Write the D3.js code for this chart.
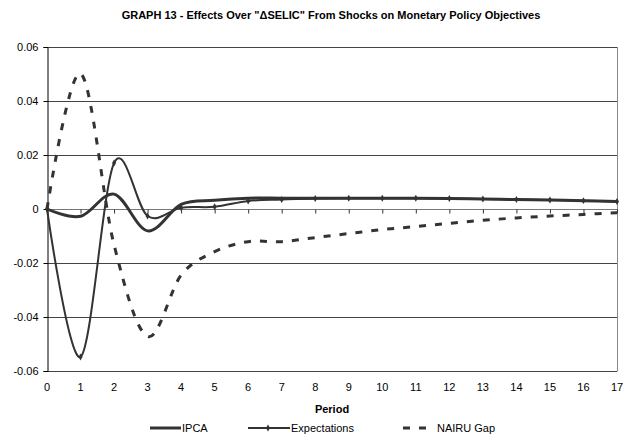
<!DOCTYPE html>
<html><head><meta charset="utf-8">
<script src="https://cdn.jsdelivr.net/npm/d3@7"></script>
<style>body{margin:0;background:#fff}svg{display:block}text{font-family:"Liberation Sans",Arial,sans-serif;fill:#000}</style>
</head><body><svg id="c" width="629" height="438"></svg>
<script>
const periods = [0,1,2,3,4,5,6,7,8,9,10,11,12,13,14,15,16,17];
const ipca = [0, -0.0027, 0.0055, -0.0081, 0.0017, 0.0032, 0.0040, 0.0040, 0.0040, 0.0040, 0.0040, 0.0040, 0.0039, 0.0037, 0.0035, 0.0033, 0.0031, 0.0028];
const expectations = [0, -0.0548, 0.0170, -0.0026, 0.0005, 0.0008, 0.0030, 0.0035, 0.0039, 0.0040, 0.0040, 0.0040, 0.0039, 0.0037, 0.0035, 0.0033, 0.0031, 0.0028];
const nairuGap = [0, 0.0502, -0.0133, -0.0472, -0.0245, -0.0158, -0.0121, -0.0121, -0.0106, -0.0091, -0.0076, -0.0065, -0.0053, -0.0042, -0.0033, -0.0026, -0.0020, -0.0014];
const yTicks = [-0.06, -0.04, -0.02, 0, 0.02, 0.04, 0.06];
const seriesNames = ["IPCA", "Expectations", "NAIRU Gap"];
const title = 'GRAPH 13 - Effects Over "\u0394SELIC" From Shocks on Monetary Policy Objectives';
const xTitle = "Period";

const svg = d3.select("#c");
const L = 47, R = 617, T = 47, B = 371;
const x = d3.scaleLinear().domain([0, 17]).range([L, R]);
const y = d3.scaleLinear().domain([-0.06, 0.06]).range([B, T]);

svg.append("text").attr("x", 331).attr("y", 19).attr("text-anchor", "middle")
  .style("font-size", "11px").style("font-weight", "bold").text(title);

// gridlines
svg.append("g").selectAll("line").data(yTicks).join("line")
  .attr("x1", L).attr("x2", R)
  .attr("y1", d => Math.round(y(d)) + 0.5).attr("y2", d => Math.round(y(d)) + 0.5)
  .attr("stroke", d => d === 0 ? "#777" : "#444").attr("stroke-width", 1);
// right border
svg.append("line").attr("x1", R + 0.5).attr("x2", R + 0.5).attr("y1", T).attr("y2", B + 0.5)
  .attr("stroke", "#888");

// y axis
const ya = svg.append("g").attr("transform", `translate(${L + 0.5},0)`)
  .call(d3.axisLeft(y).tickValues(yTicks).tickSize(4).tickPadding(5)
    .tickFormat(d => d === 0 ? "0" : d.toFixed(2)));
ya.select(".domain").attr("stroke", "#000");
ya.selectAll(".tick line").attr("stroke", "#000");
ya.selectAll("text").style("font-size", "11px").style("font-family", '"Liberation Sans",Arial,sans-serif').attr("fill", "#000");
ya.selectAll(".tick").attr("transform", d => `translate(0,${Math.round(y(d)) + 0.5})`);

// x axis at zero with ticks
const y0 = Math.round(y(0)) + 0.5;
const xa = svg.append("g").attr("transform", `translate(0,${y0})`)
  .call(d3.axisBottom(x).tickValues(periods).tickSize(4).tickFormat(""));
xa.select(".domain").remove();
xa.selectAll(".tick line").attr("stroke", "#333");
// x labels at bottom
svg.append("g").selectAll("text").data(periods).join("text")
  .attr("x", d => x(d)).attr("y", 391).attr("text-anchor", "middle")
  .style("font-size", "11px").text(d => d);
svg.append("text").attr("x", 332).attr("y", 413).attr("text-anchor", "middle")
  .style("font-size", "11px").style("font-weight", "bold").text(xTitle);

const line = d3.line().x((d, i) => x(periods[i])).y(d => y(d)).curve(d3.curveCardinal.tension(0));

svg.append("path").attr("d", line(nairuGap)).attr("fill", "none")
  .attr("stroke", "#333").attr("stroke-width", 3).attr("stroke-dasharray", "7,9");
svg.append("path").attr("d", line(expectations)).attr("fill", "none")
  .attr("stroke", "#333").attr("stroke-width", 2);
const diamond = d3.symbol().type(d3.symbolDiamond).size(14);
svg.append("g").selectAll("path").data(expectations).join("path")
  .attr("transform", (d, i) => `translate(${x(periods[i])},${y(d)})`)
  .attr("d", diamond).attr("fill", "#333");
svg.append("path").attr("d", line(ipca)).attr("fill", "none")
  .attr("stroke", "#333").attr("stroke-width", 3);

// legend
const ly = 428;
const lg = svg.append("g");
lg.append("line").attr("x1", 150).attr("x2", 181).attr("y1", ly).attr("y2", ly).attr("stroke", "#333").attr("stroke-width", 3);
lg.append("text").attr("x", 182).attr("y", ly + 4).style("font-size", "11px").text(seriesNames[0]);
lg.append("line").attr("x1", 248).attr("x2", 290).attr("y1", ly).attr("y2", ly).attr("stroke", "#333").attr("stroke-width", 2);
lg.append("path").attr("transform", `translate(268,${ly})`).attr("d", diamond).attr("fill", "#333");
lg.append("text").attr("x", 291).attr("y", ly + 4).style("font-size", "11px").text(seriesNames[1]);
lg.append("line").attr("x1", 403).attr("x2", 426).attr("y1", ly).attr("y2", ly).attr("stroke", "#333").attr("stroke-width", 3).attr("stroke-dasharray", "7,9");
lg.append("text").attr("x", 437).attr("y", ly + 4).style("font-size", "11px").text(seriesNames[2]);
</script></body></html>
